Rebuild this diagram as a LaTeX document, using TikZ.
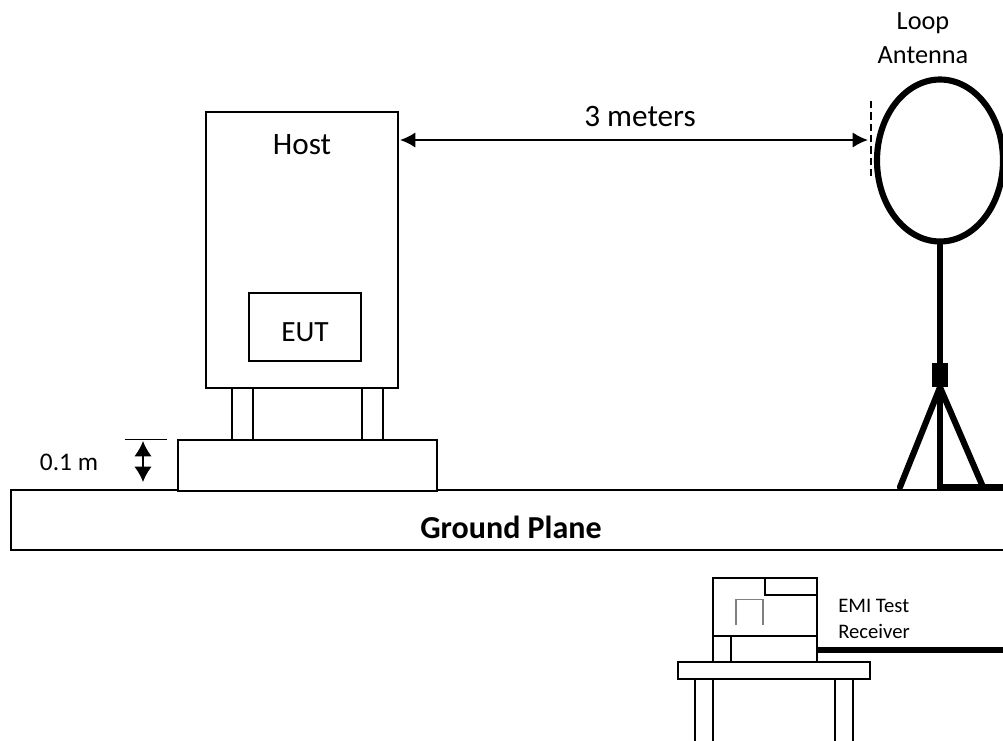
\documentclass[tikz,border=0pt]{standalone}
\usepackage{fontspec}
\setmainfont{Carlito}
\usetikzlibrary{arrows.meta,shapes.geometric}
\tikzset{
  x=0.75pt,y=-0.75pt,
  boxline/.style={draw=black,line width=1.5pt,fill=white,outer sep=0pt},
  heavy/.style={draw=black,line width=4.6pt,outer sep=0pt},
  dimarrow/.style={draw=black,line width=1.5pt,{Latex[length=11.5pt,width=11.5pt]}-{Latex[length=11.5pt,width=11.5pt]}},
  smalldim/.style={draw=black,line width=1.2pt,{Latex[length=11.5pt,width=13pt]}-{Latex[length=11.5pt,width=13pt]}},
  lbl/.style={inner sep=0pt,align=center,text=black},
  box/.style args={#1/#2}{boxline,inner sep=0pt,minimum width=#1*0.75pt,minimum height=#2*0.75pt}
}
\begin{document}
\begin{tikzpicture}
\useasboundingbox (0,0) rectangle (1003,740);
\clip (0,0) rectangle (1003,740);
% ground plane (open at the right edge)
\node[box=1020/60,anchor=north west] (ground) at (11,489.5) {};
\node[lbl,font=\fontsize{24pt}{28pt}\selectfont\bfseries] (groundlbl) at (511,527) {Ground Plane};
% host, EUT, legs, platform
\node[box=21/52,anchor=north west] (legL) at (232,388) {};
\node[box=21/52,anchor=north west] (legR) at (362,388) {};
\node[box=192/276,anchor=north west] (host) at (206,112) {};
\node[box=112/68,anchor=north west] (eut) at (249,293) {};
\node[box=259/51,anchor=north west] (platform) at (178,440) {};
\node[lbl,font=\fontsize{23.4pt}{28pt}\selectfont] (hostlbl) at (302,145) {Host};
\node[lbl,font=\fontsize{22pt}{28pt}\selectfont] (eutlbl) at (305,332) {EUT};
% 0.1 m dimension
\coordinate (tickL) at (125,439.5);
\coordinate (tickR) at (167,439.5);
\draw[line width=1.1pt] (tickL) -- (tickR);
\coordinate (dimT) at (143,441);
\coordinate (dimB) at (143,482);
\draw[smalldim] (dimT) -- (dimB);
\node[lbl,font=\fontsize{19pt}{22pt}\selectfont] (hlbl) at (69,462) {0.1 m};
% 3 meters dimension
\coordinate (refT) at (870.5,101);
\coordinate (refB) at (870.5,179);
\draw[line width=1.5pt,dash pattern=on 5.5pt off 3pt] (refT) -- (refB);
\coordinate (arrR) at (868,140);
\coordinate (arrL) at (400,140);
\draw[dimarrow] (arrL) -- (arrR);
\node[lbl,font=\fontsize{23.4pt}{28pt}\selectfont] (dist) at (640,116) {3 meters};
% loop antenna
\node[heavy,ellipse,inner sep=0pt,minimum width=94.5pt,minimum height=121.5pt] (loop) at (940,160.5) {};
\coordinate (mastB) at (940,490);
\coordinate (legA) at (900,487);
\coordinate (legB) at (983,487);
\coordinate (footR) at (1010,487);
\coordinate (footL) at (940,487);
\node[fill=black,inner sep=0pt,minimum width=12pt,minimum height=18pt] (clamp) at (940,375) {};
\draw[heavy] (loop.south) -- (mastB);
\draw[heavy,line cap=round] (clamp.south) -- (legA);
\draw[heavy,line cap=round] (clamp.south) -- (legB);
\draw[heavy] (footL) -- (footR);
\node[lbl,font=\fontsize{19.7pt}{25pt}\selectfont] (looplbl) at (923,38) {Loop\\Antenna};
% receiver
\node[box=18/70,anchor=north west] (tlegA) at (695,679) {};
\node[box=18/70,anchor=north west] (tlegB) at (835,679) {};
\node[box=192/17,anchor=north west] (table) at (678,662) {};
\node[box=104/84,anchor=north west] (rcv) at (713,578) {};
\node[box=52/17,anchor=north west] (rcvtop) at (765,578) {};
\node[box=18/26,anchor=north west] (rcvbtn) at (713,636) {};
\draw[line width=1.5pt] (rcvbtn.north east) -- (rcv.east |- rcvbtn.north);
\coordinate (gA) at (736,625);
\coordinate (gB) at (736,599.5);
\coordinate (gC) at (763,599.5);
\coordinate (gD) at (763,625);
\draw[draw=gray,line width=0.8pt] (gA) -- (gB) -- (gC) -- (gD);
\coordinate (cableR) at (1010,650);
\draw[heavy] (rcv.east |- cableR) -- (cableR);
\node[lbl,font=\fontsize{15.5pt}{19.5pt}\selectfont,align=left,anchor=west] (rcvlbl) at (838,619) {EMI Test\\Receiver};
\end{tikzpicture}
\end{document}
